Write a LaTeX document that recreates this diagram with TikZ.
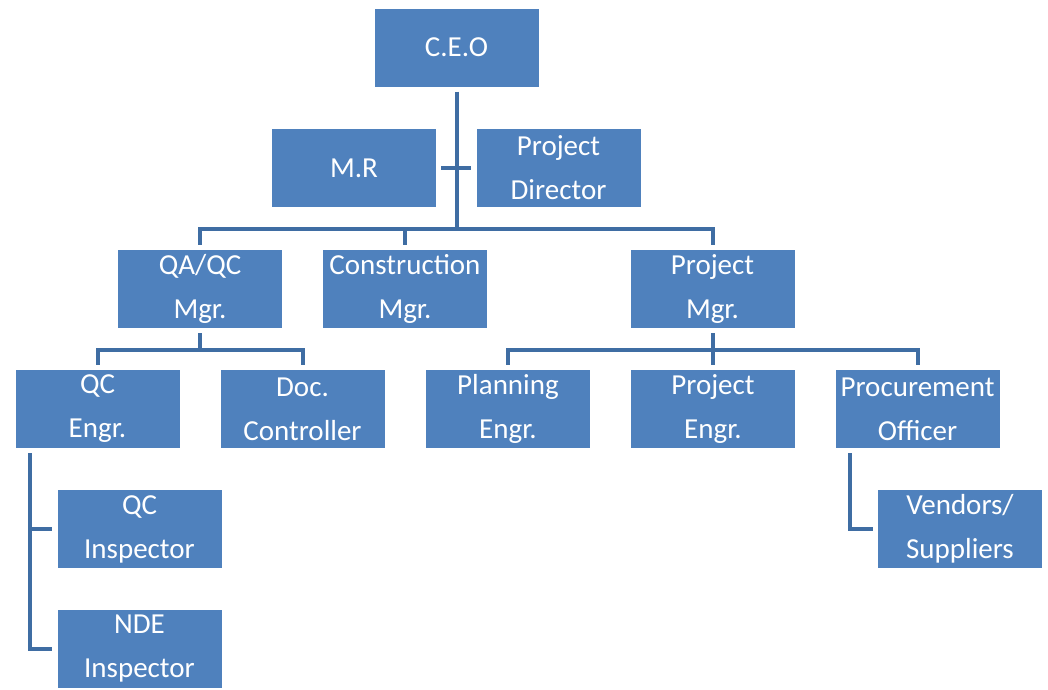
\documentclass[tikz,border=0pt]{standalone}
\usepackage{fontspec}
\setmainfont{Carlito}
\usetikzlibrary{calc}
\definecolor{boxblue}{HTML}{4F81BD}
\definecolor{linkblue}{HTML}{3F6DA3}
\begin{document}
\begin{tikzpicture}[x=1pt,y=1pt,
  unit/.style={fill=boxblue, text=white, minimum width=164pt, minimum height=78pt,
    inner sep=0pt, align=center, font=\fontsize{29}{44}\selectfont},
  conn/.style={draw=linkblue, line width=4pt, shorten <=5pt, shorten >=5pt},
  bare/.style={draw=linkblue, line width=4pt}]
\useasboundingbox (0,0) rectangle (1048,-689);

% top management
\node[unit] (ceo) at (456.5,-47.5) {C.E.O};
\node[unit] (mr)  at (354,-168) {M.R};
\node[unit] (pd)  at (558.5,-168) {Project\\Director};

% department managers
\node[unit] (qaqc) at (200,-289) {QA/QC\\Mgr.};
\node[unit] (con)  at (405,-289) {Construction\\Mgr.};
\node[unit] (pm)   at (712.5,-289) {Project\\Mgr.};

% engineers and officers
\node[unit] (qce)  at (97.5,-409) {QC\\Engr.};
\node[unit] (doc)  at (302.5,-409) {Doc.\\Controller};
\node[unit] (plan) at (508,-409) {Planning\\Engr.};
\node[unit] (pe)   at (713,-409) {Project\\Engr.};
\node[unit] (proc) at (917.5,-409) {Procurement\\Officer};

% staff
\node[unit] (qci) at (139.5,-529) {QC\\Inspector};
\node[unit] (nde) at (139.5,-649) {NDE\\Inspector};
\node[unit] (ven) at (960,-529) {Vendors/\\Suppliers};

% junction points
\coordinate (b1) at (456.5,-229);
\coordinate (b2) at (200,-350);
\coordinate (b3) at (712.5,-350);

% CEO trunk and staff cross bar
\draw[conn, shorten >=0pt] (ceo.south) -- (b1);
\draw[conn] (mr.east) -- (pd.west);

% managers
\draw[conn] (qaqc.north) |- (b1) -| (pm.north);
\draw[conn, shorten <=0pt] (b1) -| (con.north);

% QA/QC branch
\draw[conn, shorten >=0pt] (qaqc.south) -- (b2);
\draw[conn] (qce.north) |- (b2) -| (doc.north);

% project branch
\draw[conn, shorten >=0pt] (pm.south) -- (b3);
\draw[conn] (plan.north) |- (b3) -| (proc.north);
\draw[conn, shorten <=0pt] (b3) -| (pe.north);

% inspectors
\draw[conn] ($(qce.south west)+(15,0)$) |- (qci.west);
\draw[conn] ($(qce.south west)+(15,0)$) |- (nde.west);

% vendors
\draw[conn] ($(proc.south west)+(15,0)$) |- (ven.west);
\end{tikzpicture}
\end{document}
